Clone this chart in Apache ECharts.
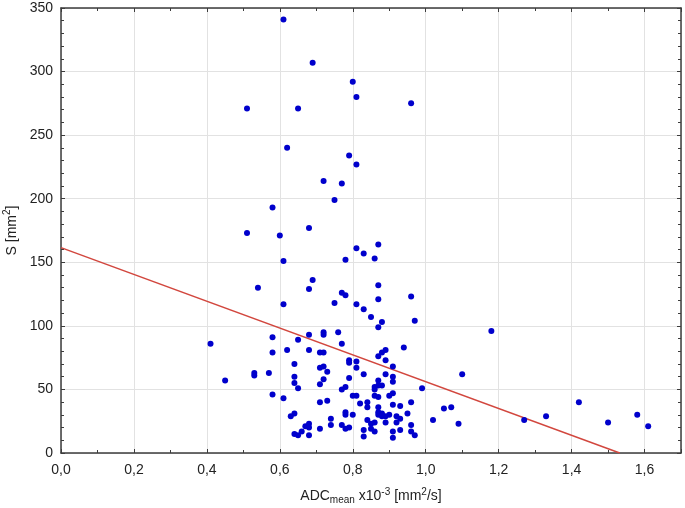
<!DOCTYPE html>
<html>
<head>
<meta charset="utf-8">
<script src="https://cdn.jsdelivr.net/npm/echarts@6/dist/echarts.min.js"></script>
<style>html,body{margin:0;padding:0;background:#fff;}#c{width:685px;height:508px;}</style>
</head>
<body>
<div id="c"></div>
<script>
// ADC mean (x10^-3 mm^2/s) values
const adcValues = [
0.61,0.69,0.80,0.81,0.96,0.51,0.65,0.62,0.79,0.81,0.72,0.77,0.75,0.58,0.51,0.60,0.68,0.87,0.81,0.83,
0.86,0.78,0.61,0.69,0.87,0.54,0.68,0.77,0.78,0.96,0.87,0.75,0.61,0.81,0.83,0.85,0.97,0.88,0.87,
1.18,0.72,0.76,0.72,0.68,0.58,0.65,0.41,0.77,0.94,0.62,0.68,0.89,0.58,0.71,0.72,0.88,0.87,0.79,0.79,0.81,
0.89,0.64,0.71,0.72,0.81,0.91,0.73,0.53,0.53,0.57,0.83,0.89,1.10,0.64,0.91,0.79,0.72,0.45,0.87,0.91,
0.64,0.71,0.88,0.87,0.78,0.86,0.65,0.99,0.86,0.77,
0.58,0.80,0.81,0.86,0.90,0.87,0.91,0.61,0.71,0.73,0.82,0.84,0.96,1.42,0.84,0.87,0.91,0.93,1.05,1.07,
0.78,0.78,0.80,0.87,0.88,0.89,0.90,0.88,0.87,0.92,0.93,0.95,0.64,0.63,1.58,1.33,0.74,0.84,1.02,1.27,
0.86,0.89,0.92,1.50,0.85,1.09,0.68,0.74,0.96,0.77,0.78,0.79,0.67,0.68,1.61,0.71,0.83,0.85,0.86,0.91,
0.93,0.96,0.66,0.64,0.65,0.68,0.97,0.83,0.91
];
// S (mm^2) values
const sValues = [
341,307,292,280,275,271,271,240,234,227,214,212,199,193,173,171,177,164,161,157,
153,152,151,136,132,130,129,126,124,123,121,118,117,117,113,107,104,103,99,
96,95,95,93,93,91,89,86,86,83,81,81,81,79,79,79,79,76,73,71,72,
73,70,67,68,67,68,64,63,61,63,62,62,62,60,60,59,58,57,57,56,
55,54,53,53,52,52,51,51,50,50,
46,45,45,45,45,44,47,43,40,41,39,40,40,40,36,36,38,37,35,36,
32,30,30,32,31,29,30,29,30,29,27,31,31,29,30,29,27,26,26,26,
24,24,24,24,23,23,23,22,22,22,19,20,21,20,21,19,18,19,17,17,
18,17,17,15,14,14,14,13,12
];
// regression line end points [x, S]
const fitX = [0, 1.532];
const fitY = [161.5, 0];
// tick labels
const xTicks = ['0,0','0,2','0,4','0,6','0,8','1,0','1,2','1,4','1,6'];
const yTicks = [0,50,100,150,200,250,300,350];

const points = adcValues.map((v, i) => [v, sValues[i]]);
const fitLine = fitX.map((v, i) => [v, fitY[i]]);

const font = 'Liberation Sans, Arial, sans-serif';
const axisLineStyle = { color: '#3c3c3c', width: 1.5 };
const chart = echarts.init(document.getElementById('c'), null, { renderer: 'canvas' });

const baseX = {
  type: 'value', min: 0, max: 1.7, interval: 0.2,
  axisLine: { show: true, onZero: false, lineStyle: axisLineStyle },
  axisTick: { show: true, inside: true, length: 4, lineStyle: { color: '#3c3c3c' } },
  minorTick: { show: true, splitNumber: 2, length: 3, lineStyle: { color: '#3c3c3c' } },
  splitLine: { show: false }
};
const baseY = {
  type: 'value', min: 0, max: 350, interval: 50,
  axisLine: { show: true, onZero: false, lineStyle: axisLineStyle },
  axisTick: { show: true, inside: true, length: 4, lineStyle: { color: '#3c3c3c' } },
  minorTick: { show: true, splitNumber: 5, length: 3, lineStyle: { color: '#3c3c3c' } },
  splitLine: { show: false }
};

chart.setOption({
  animation: false,
  backgroundColor: '#ffffff',
  grid: { left: 61, right: 4, top: 8, bottom: 55, containLabel: false, outerBoundsMode: 'none' },
  xAxis: [
    Object.assign({}, baseX, {
      position: 'bottom',
      splitLine: { show: true, lineStyle: { color: '#e2e2e2', width: 1 } },
      axisLabel: {
        show: true, margin: 10, fontFamily: font, fontSize: 14, color: '#222',
        formatter: function (v) { const i = Math.round(v / 0.2); return xTicks[i] !== undefined ? xTicks[i] : ''; },
        showMaxLabel: false
      },
      name: '{a|ADC}{sub|mean}{a| x10}{sup|-3}{a| [mm}{sup|2}{a|/s]}',
      nameLocation: 'middle', nameGap: 34,
      nameTextStyle: {
        fontFamily: font, fontSize: 14, color: '#222',
        rich: {
          a: { fontFamily: font, fontSize: 14, color: '#222', lineHeight: 18, verticalAlign: 'middle' },
          sub: { fontFamily: font, fontSize: 10, color: '#222', lineHeight: 18, verticalAlign: 'bottom' },
          sup: { fontFamily: font, fontSize: 10, color: '#222', lineHeight: 18, verticalAlign: 'top' }
        }
      }
    }),
    Object.assign({}, baseX, { position: 'top', axisLabel: { show: false } })
  ],
  yAxis: [
    Object.assign({}, baseY, {
      position: 'left',
      splitLine: { show: true, lineStyle: { color: '#e2e2e2', width: 1 } },
      axisLabel: {
        show: true, margin: 8, fontFamily: font, fontSize: 14, color: '#222',
        formatter: function (v) { const i = yTicks.indexOf(v); return i >= 0 ? String(yTicks[i]) : ''; }
      },
      name: '{a|S [mm}{sup|2}{a|]}',
      nameLocation: 'middle', nameGap: 39, nameRotate: 90,
      nameTextStyle: {
        fontFamily: font, fontSize: 14, color: '#222',
        rich: {
          a: { fontFamily: font, fontSize: 14, color: '#222', lineHeight: 18, verticalAlign: 'middle' },
          sup: { fontFamily: font, fontSize: 10, color: '#222', lineHeight: 18, verticalAlign: 'top' }
        }
      }
    }),
    Object.assign({}, baseY, { position: 'right', axisLabel: { show: false } })
  ],
  series: [
    {
      type: 'line', xAxisIndex: 0, yAxisIndex: 0, data: fitLine,
      symbol: 'none', lineStyle: { color: '#d2473e', width: 1.5 }, z: 2, silent: true
    },
    {
      type: 'scatter', xAxisIndex: 0, yAxisIndex: 0, data: points,
      symbol: 'circle', symbolSize: 6,
      itemStyle: { color: '#0000cc', opacity: 1 }, z: 3
    }
  ]
});
</script>
</body>
</html>
